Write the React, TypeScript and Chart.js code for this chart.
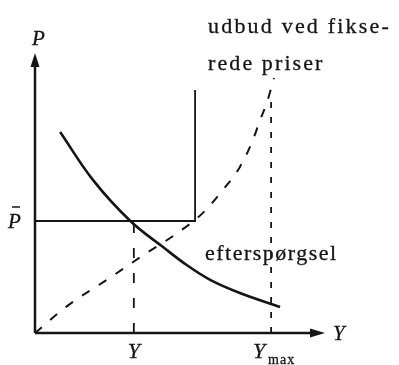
import React, { useEffect, useRef } from "react";
import { Chart, registerables } from "chart.js";

Chart.register(...registerables);

// Demand curve (efterspørgsel): quantity Y against price P
const demandY = [0.87, 2.01, 3.3, 4.43, 5.26, 6.06, 7.09, 8.48];
const demandP = [7.18, 5.46, 4.0, 3.07, 2.42, 1.9, 1.43, 0.93];

// Supply at fixed prices (udbud ved fikserede priser)
const supplyY = [0, 1.11, 2.53, 3.91, 4.8, 5.81, 6.5, 7.09, 7.51, 7.79, 8.03, 8.27];
const supplyP = [0, 0.96, 1.93, 2.89, 3.48, 4.29, 5.11, 5.93, 6.82, 7.61, 8.25, 9.11];

// Fixed price level and the kinked price line
const pBar = 4.0;
const kinkY = 5.54;
const kinkTopP = 8.68;

// Output levels marked on the horizontal axis
const yEquilibrium = 3.42;
const yMax = 8.17;
const yMaxGuideTop = 8.39;

// Text
const supplyLabel = ["udbud ved fikse-", "rede priser"];
const demandLabel = "efterspørgsel";
const priceAxisLabel = "P";
const outputAxisLabel = "Y";
const maxSubscript = "max";

const INK = "#151515";
const SERIF = '"Liberation Serif", "DejaVu Serif", serif';

const pts = (xs: number[], ys: number[]) => xs.map((x, i) => ({ x, y: ys[i] }));

// Text with letter spacing and a faint outline so it prints a little heavier
function inkText(ctx: CanvasRenderingContext2D, text: string, x: number, y: number, spacing = 0) {
  const c = ctx as any;
  c.letterSpacing = spacing + "px";
  ctx.lineWidth = 0.3;
  ctx.fillText(text, x, y);
  ctx.strokeText(text, x, y);
  c.letterSpacing = "0px";
}

const diagramPlugin = {
  id: "diagramInk",
  afterDatasetsDraw(chart: any) {
    const { ctx, chartArea, scales } = chart;
    const { left, right, top, bottom } = chartArea;
    const sx = scales.x;
    const sy = scales.y;
    ctx.save();
    ctx.strokeStyle = INK;
    ctx.fillStyle = INK;
    ctx.lineWidth = 2.5;
    ctx.lineCap = "butt";

    // axes
    ctx.beginPath();
    ctx.moveTo(left, bottom);
    ctx.lineTo(right - 8, bottom);
    ctx.moveTo(left, bottom);
    ctx.lineTo(left, top + 8);
    ctx.stroke();

    // arrowheads
    ctx.beginPath();
    ctx.moveTo(right + 1, bottom);
    ctx.lineTo(right - 14, bottom - 4.5);
    ctx.lineTo(right - 14, bottom + 4.5);
    ctx.closePath();
    ctx.fill();
    ctx.beginPath();
    ctx.moveTo(left, top);
    ctx.lineTo(left - 4.5, top + 14);
    ctx.lineTo(left + 4.5, top + 14);
    ctx.closePath();
    ctx.fill();

    // axis names
    ctx.textBaseline = "alphabetic";
    ctx.textAlign = "left";
    ctx.font = `italic 21px ${SERIF}`;
    inkText(ctx, priceAxisLabel, left - 3, top - 8);
    inkText(ctx, outputAxisLabel, right + 9, bottom + 7);

    // P-bar label
    const pPix = sy.getPixelForValue(pBar);
    inkText(ctx, priceAxisLabel, left - 27, pPix + 7);
    ctx.lineWidth = 1.5;
    ctx.beginPath();
    ctx.moveTo(left - 23, pPix - 14);
    ctx.lineTo(left - 15, pPix - 14);
    ctx.stroke();

    // output labels
    ctx.font = `italic 22px ${SERIF}`;
    const yEqPix = sx.getPixelForValue(yEquilibrium);
    ctx.textAlign = "center";
    inkText(ctx, outputAxisLabel, yEqPix, bottom + 25);
    const yMaxPix = sx.getPixelForValue(yMax);
    ctx.textAlign = "left";
    inkText(ctx, outputAxisLabel, yMaxPix - 18, bottom + 25);
    ctx.font = `14px ${SERIF}`;
    inkText(ctx, maxSubscript, yMaxPix - 3, bottom + 31, 1);

    // curve names
    ctx.font = `22px ${SERIF}`;
    inkText(ctx, supplyLabel[0], 208, 33, 2.2);
    inkText(ctx, supplyLabel[1], 208, 70, 2.1);
    inkText(ctx, demandLabel, 205, 260, 1.5);

    ctx.restore();
  },
};

export default function App() {
  const ref = useRef<HTMLCanvasElement>(null);

  useEffect(() => {
    const canvas = ref.current;
    if (!canvas) return;
    const chart = new Chart(canvas, {
      type: "line",
      data: {
        datasets: [
          {
            label: "efterspørgsel",
            data: pts(demandY, demandP),
            borderColor: INK,
            borderWidth: 2.6,
            tension: 0.4,
            pointRadius: 0,
            fill: false,
          },
          {
            label: "udbud",
            data: pts(supplyY, supplyP),
            borderColor: INK,
            borderWidth: 2,
            borderDash: [9, 11],
            cubicInterpolationMode: "monotone",
            pointRadius: 0,
            fill: false,
          },
          {
            label: "fast pris",
            data: [
              { x: 0, y: pBar },
              { x: kinkY, y: pBar },
              { x: kinkY, y: kinkTopP },
            ],
            borderColor: INK,
            borderWidth: 1.8,
            tension: 0,
            pointRadius: 0,
            fill: false,
          },
          {
            label: "Y",
            data: [
              { x: yEquilibrium, y: 0 },
              { x: yEquilibrium, y: pBar },
            ],
            borderColor: INK,
            borderWidth: 1.8,
            borderDash: [10, 15],
            pointRadius: 0,
            fill: false,
          },
          {
            label: "Ymax",
            data: [
              { x: yMax, y: 0 },
              { x: yMax, y: yMaxGuideTop },
            ],
            borderColor: INK,
            borderWidth: 1.8,
            borderDash: [6, 9],
            pointRadius: 0,
            fill: false,
          },
        ],
      },
      options: {
        responsive: false,
        animation: false,
        devicePixelRatio: 1,
        layout: { padding: { left: 35, right: 75, top: 53, bottom: 32 } },
        plugins: { legend: { display: false }, tooltip: { enabled: false } },
        scales: {
          x: { type: "linear", min: 0, max: 10, display: false },
          y: { type: "linear", min: 0, max: 10, display: false },
        },
      },
      plugins: [diagramPlugin],
    } as any);
    return () => chart.destroy();
  }, []);

  return (
    <div style={{ position: "fixed", left: 0, top: 0, width: 399, height: 365, background: "#fff" }}>
      <canvas ref={ref} width={399} height={365} style={{ display: "block", width: 399, height: 365 }} />
    </div>
  );
}
